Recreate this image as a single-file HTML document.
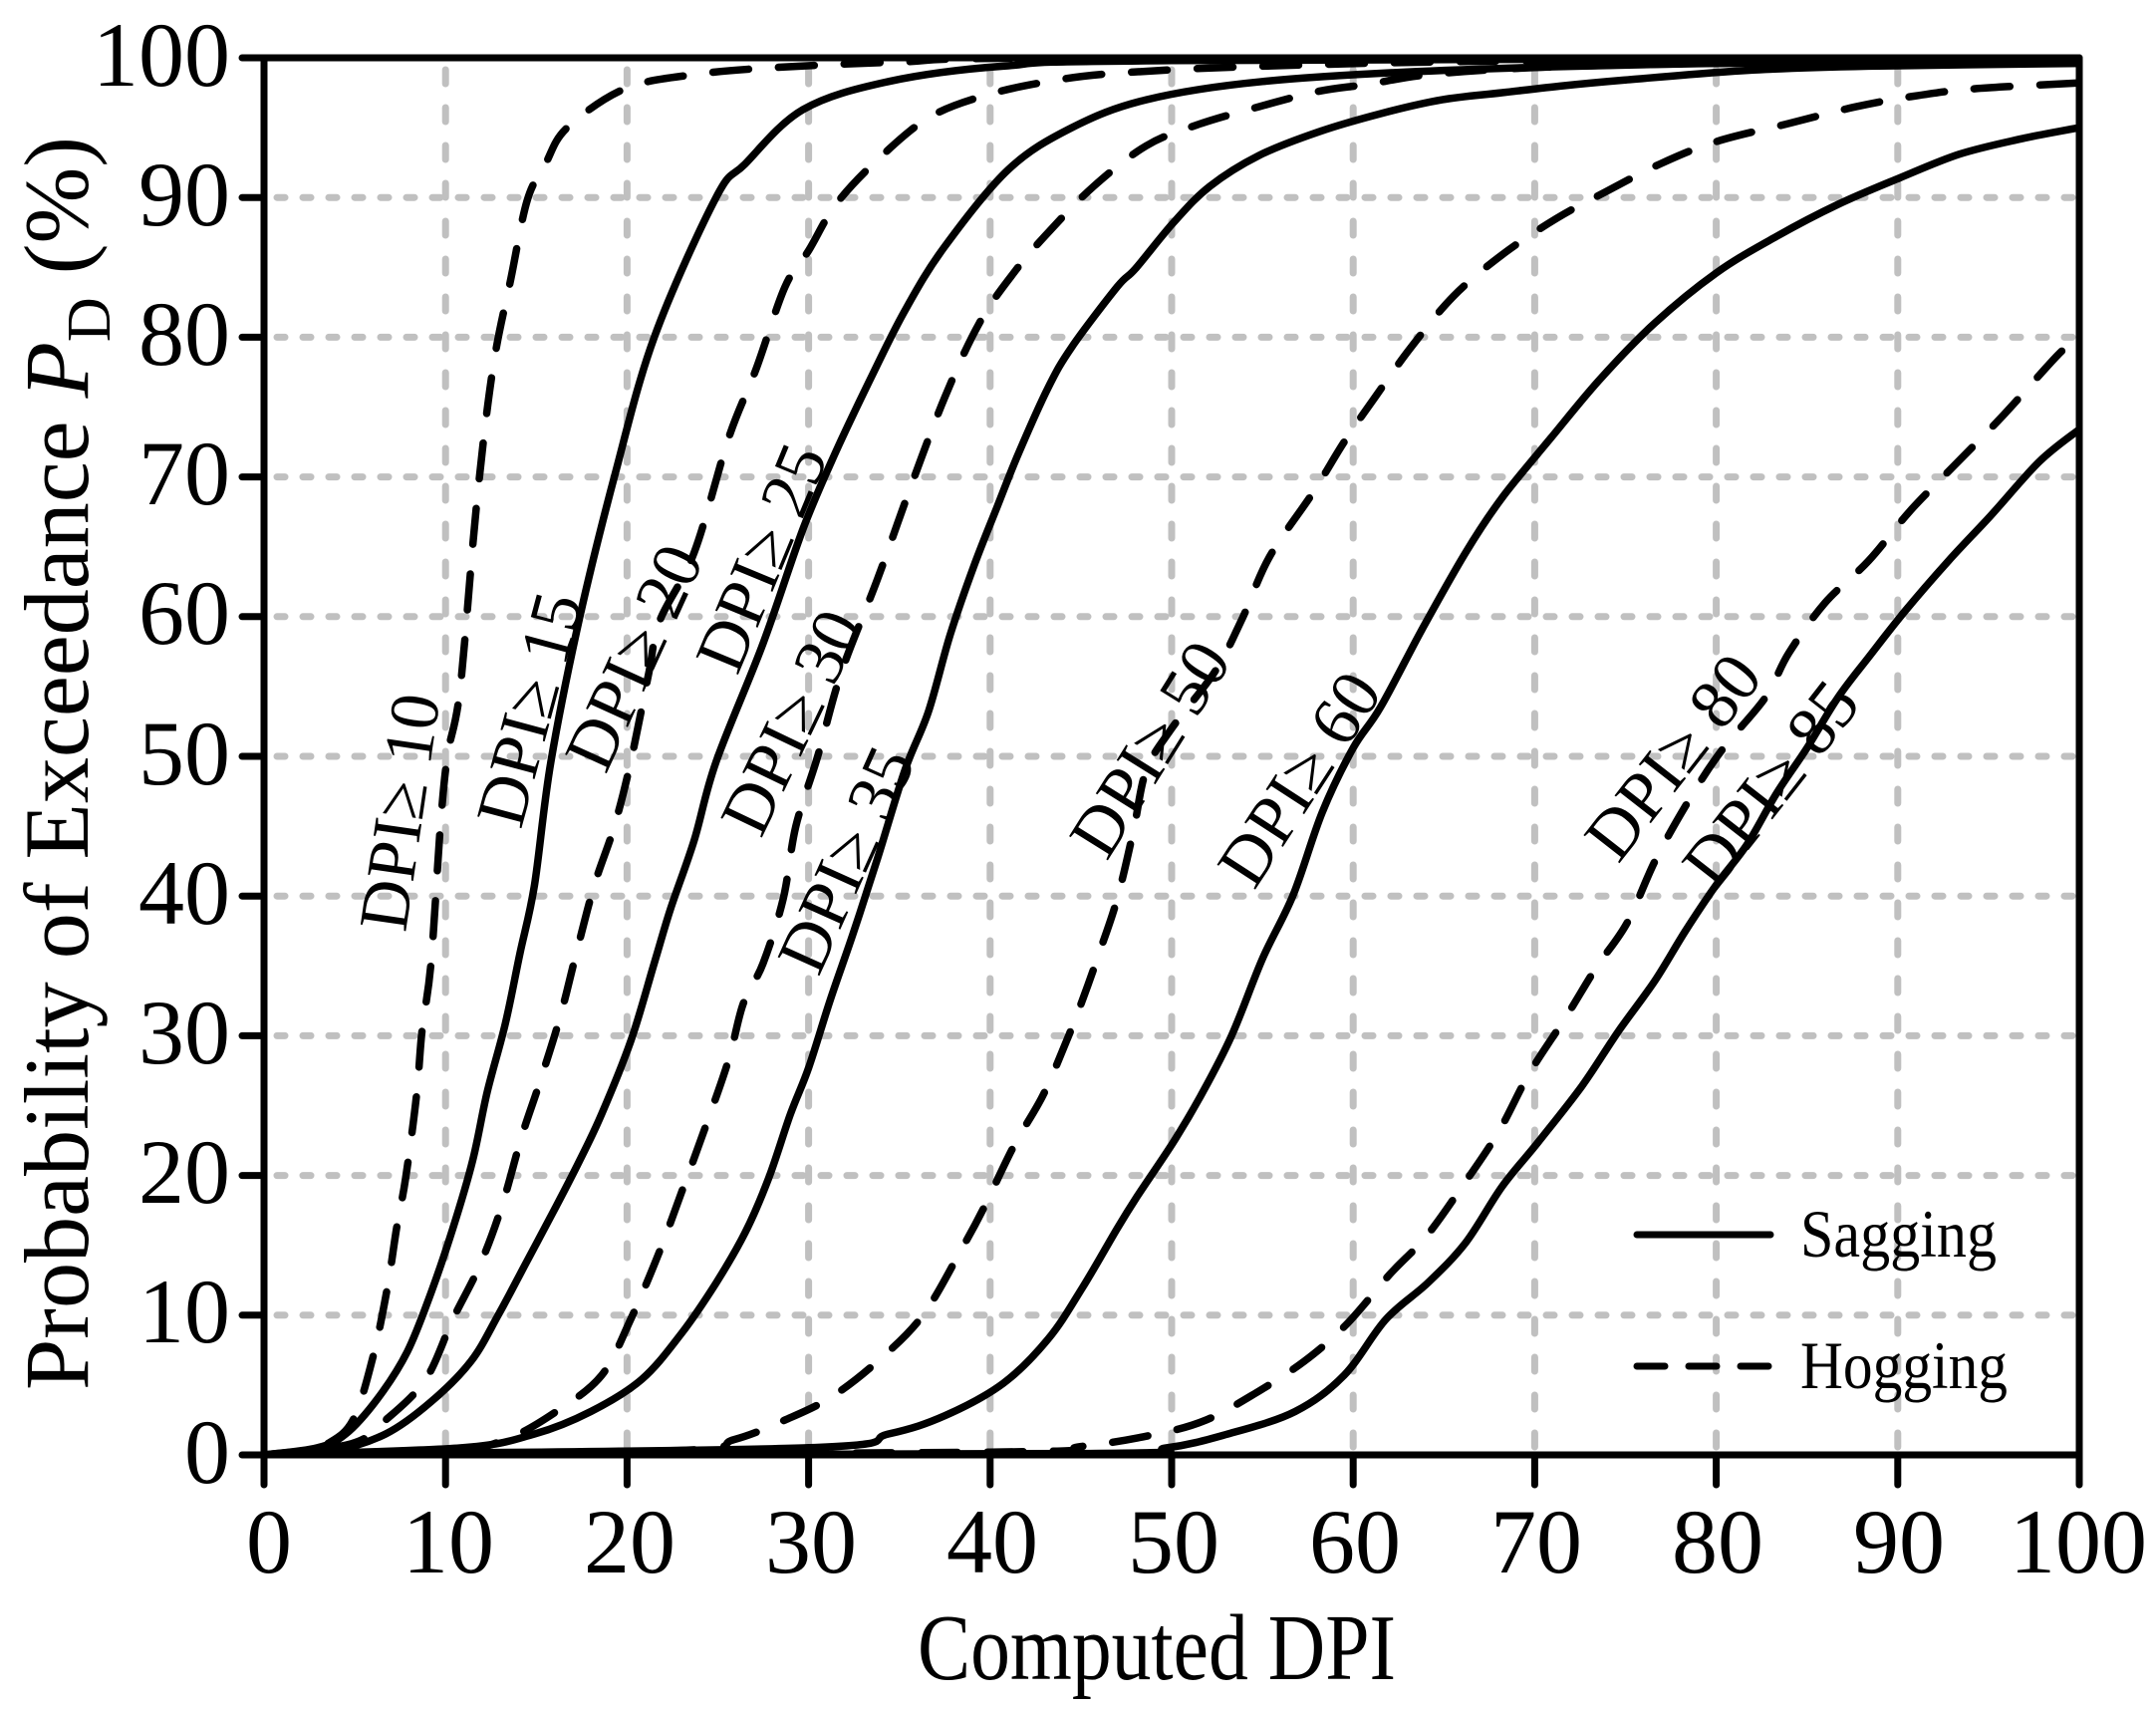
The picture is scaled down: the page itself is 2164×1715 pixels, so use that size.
<!DOCTYPE html>
<html><head><meta charset="utf-8"><style>
html,body{margin:0;padding:0;background:#fff;}
svg{display:block;}
text{font-family:"Liberation Serif","Times New Roman",serif;fill:#000;}
</style></head><body>
<svg id="s" width="2164" height="1715" viewBox="0 0 2164 1715" xmlns="http://www.w3.org/2000/svg">
<rect width="2164" height="1715" fill="#fff"/>
<g stroke="#c0c0c0" stroke-width="7" stroke-linecap="round">
<g stroke-dasharray="8 18">
<line x1="278" x2="2080" y1="1319.8" y2="1319.8"/><line x1="278" x2="2080" y1="1179.6" y2="1179.6"/>
<line x1="278" x2="2080" y1="1039.4" y2="1039.4"/><line x1="278" x2="2080" y1="899.2" y2="899.2"/>
<line x1="278" x2="2080" y1="759" y2="759"/><line x1="278" x2="2080" y1="618.8" y2="618.8"/>
<line x1="278" x2="2080" y1="478.6" y2="478.6"/><line x1="278" x2="2080" y1="338.4" y2="338.4"/>
<line x1="278" x2="2080" y1="198.2" y2="198.2"/>
</g>
<g stroke-dasharray="14 24">
<line y1="70" y2="1452" x1="447.2" x2="447.2"/><line y1="70" y2="1452" x1="629.4" x2="629.4"/>
<line y1="70" y2="1452" x1="811.6" x2="811.6"/><line y1="70" y2="1452" x1="993.8" x2="993.8"/>
<line y1="70" y2="1452" x1="1176" x2="1176" /><line y1="70" y2="1452" x1="1358.2" x2="1358.2"/>
<line y1="70" y2="1452" x1="1540.4" x2="1540.4"/><line y1="70" y2="1452" x1="1722.6" x2="1722.6"/>
<line y1="70" y2="1452" x1="1904.8" x2="1904.8"/>
</g>
</g>
<defs><clipPath id="cp"><rect x="265" y="58" width="1822" height="1402"/></clipPath></defs>
<g id="curves" clip-path="url(#cp)" fill="none" stroke="#000" stroke-width="7.5" stroke-linejoin="round" stroke-linecap="round"></g>
<g stroke="#000" stroke-width="7" stroke-linecap="round" fill="none">
<line x1="265" y1="1460" x2="2087" y2="1460"/>
<line x1="265" y1="58" x2="2087" y2="58"/>
<line x1="265" y1="58" x2="265" y2="1490"/>
<line x1="2087" y1="58" x2="2087" y2="1490"/>
<path d="M447.2 1460V1490M629.4 1460V1490M811.6 1460V1490M993.8 1460V1490M1176 1460V1490M1358.2 1460V1490M1540.4 1460V1490M1722.6 1460V1490M1904.8 1460V1490"/>
<path d="M243 1460H265M243 1319.8H265M243 1179.6H265M243 1039.4H265M243 899.2H265M243 759H265M243 618.8H265M243 478.6H265M243 338.4H265M243 198.2H265M243 58H265"/>
</g>
<g font-size="92" text-anchor="end">
<text x="231" y="1488">0</text><text x="231" y="1347">10</text><text x="231" y="1207">20</text>
<text x="231" y="1067">30</text><text x="231" y="927">40</text><text x="231" y="787">50</text>
<text x="231" y="646">60</text><text x="231" y="506">70</text><text x="231" y="366">80</text>
<text x="231" y="226">90</text><text x="231" y="86">100</text>
</g>
<g font-size="92" text-anchor="middle">
<text x="270" y="1578">0</text><text x="450" y="1578">10</text><text x="632" y="1578">20</text>
<text x="814" y="1578">30</text><text x="996" y="1578">40</text><text x="1178" y="1578">50</text>
<text x="1360" y="1578">60</text><text x="1542" y="1578">70</text><text x="1724" y="1578">80</text>
<text x="1906" y="1578">90</text><text x="2086" y="1578">100</text>
</g>
<text x="1161" y="1685" font-size="94" text-anchor="middle" textLength="480" lengthAdjust="spacingAndGlyphs">Computed DPI</text>
<text transform="translate(88,1395) rotate(-90)" font-size="92" textLength="1258" lengthAdjust="spacingAndGlyphs">Probability of Exceedance <tspan font-style="italic">P</tspan><tspan font-size="62" dy="22">D</tspan><tspan dy="-22"> (%)</tspan></text>
<g font-size="70" text-anchor="middle" dominant-baseline="central">
<text transform="translate(402,815) rotate(-81.7)">DPI≥ 10</text>
<text transform="translate(532,712) rotate(-75)">DPI≥ 15</text>
<text transform="translate(637,660) rotate(-65.5)">DPI≥ 20</text>
<text transform="translate(765,560) rotate(-67.5)">DPI≥ 25</text>
<text transform="translate(795,725) rotate(-64.5)">DPI≥ 30</text>
<text transform="translate(850,863) rotate(-65.8)">DPI≥ 35</text>
<text transform="translate(1155,752) rotate(-58)">DPI≥ 50</text>
<text transform="translate(1305,782) rotate(-57)">DPI≥ 60</text>
<text transform="translate(1680,760) rotate(-52)">DPI≥ 80</text>
<text transform="translate(1778,787) rotate(-52)">DPI≥ 85</text>
</g>
<g stroke="#000" stroke-width="7" stroke-linecap="round">
<line x1="1643" y1="1239" x2="1777" y2="1239"/>
<line x1="1643" y1="1371" x2="1777" y2="1371" stroke-dasharray="28 24"/>
</g>
<text x="1807" y="1261" font-size="68" textLength="197" lengthAdjust="spacingAndGlyphs">Sagging</text>
<text x="1807" y="1393" font-size="68" textLength="208" lengthAdjust="spacingAndGlyphs">Hogging</text>
</svg>
<script>
var D={
A:[1,"0,0 2,0.2 3.5,0.8 4.9,2.5 6,7 6.8,12 7.3,16.2 7.8,19.8 8.4,25.7 8.7,30.3 9.2,35.2 9.7,44.7 10.1,50 10.8,54.8 11.7,67.9 12.6,77.7 13.6,84.2 14.5,89.8 15.5,92.4 16.7,95 19.9,97.8 23.7,98.8 28.1,99.3 35,99.7 45,100 100,100"],
B:[0,"0,0 2.9,0.5 4.5,1.5 6.3,4.1 7.9,7.4 9.2,11.6 10.4,16.2 11.5,21.1 12.3,26 13.3,30.9 14.1,35.9 14.9,40.8 15.8,49.6 17.4,60 19.3,70 21.5,80 24.9,90 26.5,92.4 29.7,96.3 34.4,98.3 40.7,99.4 50,99.8 100,100"],
C:[1,"0,0 4.8,0.8 6.7,2.5 8.9,5.4 10.4,9.7 11.9,13.6 13.1,17.8 14.2,22.8 15.2,26.7 16.3,31.3 17.2,35.9 18.2,40.8 19.3,45 20.2,49.6 21.2,56 21.8,59.7 23.7,64.6 25.6,72.8 27.1,77.7 28.7,83.6 30,86.2 31.5,89.5 33.8,92.7 36.6,95.7 39.7,97.3 43.2,98.3 47,98.9 55,99.4 70,99.8 100,100"],
Dd:[0,"0,0 3.8,0.3 6.7,1.5 9.2,3.8 11.4,6.7 12.9,10 14.5,13.9 16.1,17.8 17.4,21.1 18.6,24.4 20.2,29.6 21.5,35.2 22.4,39.1 23.7,44 24.9,49.6 27.5,58.1 29.7,66.3 31.5,71.8 33.4,77 35.3,81.9 37.5,86.5 41,92 44.5,95 48.6,97 55,98.3 65,99.1 80,99.6 100,99.8"],
E:[1,"0,0 10.1,0.3 13.3,1.1 16.1,3.1 18.6,5.7 20.2,9.7 21.8,14.6 23,18.8 24.3,23.4 25.6,28.3 26.4,32.3 27.5,35.2 28.6,39.8 29.3,45 30.5,50 31.8,56 33.8,62.7 35.6,69.2 37.5,75.7 39.4,81 41.3,84.6 43.2,87.5 45.7,90.8 48.6,93.7 51.4,95.2 54.8,96.5 58.1,97.6 60.8,98.1 64.2,98.8 70,99.3 80,99.6 100,99.8"],
F:[0,"0,0 10.8,0.5 14.9,1.5 18,3.1 20.8,5.4 23,8.7 24.9,12.3 26.5,15.9 27.8,19.8 29,24.4 30,27.7 31.2,32.6 32.5,37.5 33.8,42.7 35.3,49 36.6,53.2 37.8,58.7 39.1,63.6 40.4,67.9 41.6,71.8 43.2,76.4 44.5,79.3 47,83.6 48,84.9 50.1,88.2 52.1,90.8 54.8,93 58.1,94.7 61.5,96 64.9,97 68.2,97.5 71.6,98 74.9,98.4 81.7,99.1 88.4,99.4 100,99.6"],
G:[1,"0,0 22.4,0.3 25.9,1.1 28.7,2.5 31.2,4.1 33.8,6.7 36.3,10 38.5,14.9 39.7,17.8 41.3,22.1 42.9,25.7 44.2,29.6 45.1,32.6 46,35.9 47,39.8 47.9,44.7 48.6,49 50,52 52.4,56.1 53.9,59.9 55.4,64.3 57.8,68.9 59.5,72.5 61.2,75.7 63.2,79.3 65.5,82.9 68.2,85.9 71.2,88.5 73.9,90.4 76.9,92.4 80,94 84,95.3 87.7,96.5 91.1,97.3 94.4,97.8 100,98.2"],
H:[0,"0,0 29.7,0.5 34.4,1.5 37.5,2.8 40.7,5.1 43.2,8.3 45.1,12 47,16.2 48.1,18.5 50.1,22.4 51.6,25.7 53.3,30 55,35.5 56.7,40.1 58.3,46 60,50.6 61.5,53.5 63.8,59.1 66.2,64.6 68.2,68.5 70.9,72.8 73.6,77 76.6,81 80,84.6 83.3,87.2 86.7,89.5 90.1,91.4 93.4,93.1 96.8,94.2 100,95"],
I:[1,"0,0 40,0.2 45,0.6 49.2,1.5 51.9,2.5 54.6,4.4 57.3,6.7 59.6,9.3 62,12.9 64,15.6 66,19.2 68,23.1 69.7,27.3 71.7,31.3 73.4,34.9 75.1,38.1 76.7,42.7 78.7,47.3 80.4,50.6 82.7,54.2 84,57.4 86,61 88.4,64 90.7,67.6 93.1,70.8 95.8,74.4 98.8,78.7 100,80"],
J:[0,"0,0 45,0.1 49.7,0.5 53.1,1.5 56.8,3.1 59.5,5.7 61.8,9.7 64.1,12.3 66.2,15.2 68.2,19.2 70.2,22.4 72.6,26.4 74.6,30.3 76.6,33.9 78.3,37.5 80,40.8 81.7,43.7 83.3,47.3 85,50.6 86.7,54.2 88.4,57.1 90.4,60.4 92.8,64 95.1,67.2 97.8,71.1 100,73.4"]
};
var g=document.getElementById('curves'),ns='http://www.w3.org/2000/svg';
for(var k in D){
  var pts=D[k][1].split(' ').map(function(p){var a=p.split(',');return [265+18.22*+a[0],1460-14.02*+a[1]];});
  var d='M'+pts[0][0].toFixed(1)+' '+pts[0][1].toFixed(1);
  for(var i=0;i<pts.length-1;i++){
    var p0=pts[Math.max(0,i-1)],p1=pts[i],p2=pts[i+1],p3=pts[Math.min(pts.length-1,i+2)];
    var c1x=p1[0]+(p2[0]-p0[0])/6,c1y=p1[1]+(p2[1]-p0[1])/6,c2x=p2[0]-(p3[0]-p1[0])/6,c2y=p2[1]-(p3[1]-p1[1])/6;
    d+=' C'+c1x.toFixed(1)+' '+c1y.toFixed(1)+' '+c2x.toFixed(1)+' '+c2y.toFixed(1)+' '+p2[0].toFixed(1)+' '+p2[1].toFixed(1);
  }
  var e=document.createElementNS(ns,'path');e.setAttribute('d',d);
  if(D[k][0])e.setAttribute('stroke-dasharray','36 30');
  g.appendChild(e);
}
</script>
</body></html>
